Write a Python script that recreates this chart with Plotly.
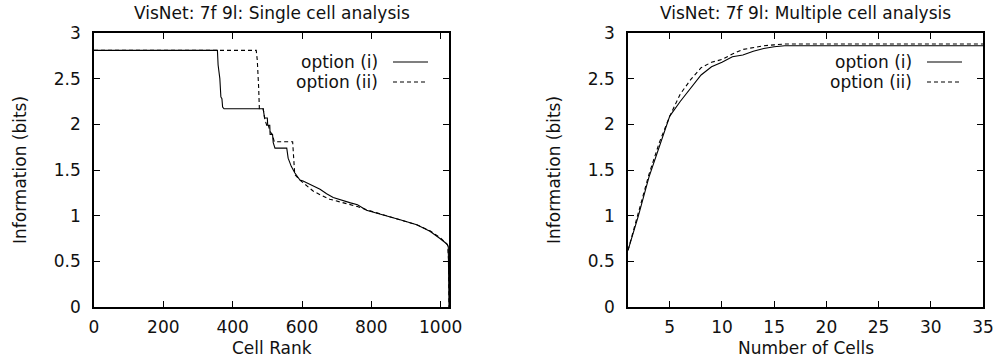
import plotly.graph_objects as go

W, H = 994, 364

# ---------------- data ----------------
single_i_rank = [0, 356, 358, 361, 363, 366, 369, 371, 375, 488, 490, 492, 500, 501, 507, 508, 515, 517,
                 522, 556, 560, 569, 579, 594, 603, 623, 652, 671, 690, 740, 760, 786,
                 834, 883, 931, 969, 998, 1010, 1018, 1022, 1023, 1024]
single_i_info = [2.81, 2.81, 2.65, 2.55, 2.50, 2.30, 2.28, 2.19, 2.17, 2.17, 2.10, 2.07, 2.07, 1.99, 1.99,
                 1.89, 1.89, 1.80, 1.74, 1.74, 1.63, 1.54, 1.47, 1.39, 1.38, 1.34, 1.29, 1.24, 1.20, 1.14,
                 1.12, 1.06, 1.01, 0.955, 0.90, 0.83, 0.75, 0.71, 0.69, 0.66, 0.3, 0.0]

single_ii_rank = [0, 468, 471, 473, 475, 477, 488, 493, 497, 500, 503, 507, 515, 520, 573, 575, 577, 579,
                  594, 615, 632, 652, 680, 720, 760, 790, 834, 883, 931, 969, 998, 1012, 1020, 1023, 1024]
single_ii_info = [2.81, 2.81, 2.70, 2.60, 2.40, 2.17, 2.17, 2.05, 2.00, 1.97, 1.99, 1.93, 1.88, 1.81, 1.81,
                  1.65, 1.52, 1.45, 1.39, 1.32, 1.27, 1.23, 1.18, 1.14, 1.10, 1.06, 1.01, 0.955, 0.90,
                  0.835, 0.76, 0.71, 0.68, 0.5, 0.0]

n_cells = [1, 2, 3, 4, 5, 6, 7, 8, 9, 10, 11, 12, 13, 14, 15, 16, 17, 18, 19, 20, 21, 22, 23, 24, 25,
           26, 27, 28, 29, 30, 31, 32, 33, 34, 35]
multi_i = [0.62, 1.00, 1.42, 1.76, 2.09, 2.25, 2.39, 2.54, 2.63, 2.68, 2.74, 2.76, 2.80, 2.83, 2.85,
           2.86, 2.86, 2.86, 2.86, 2.86, 2.86, 2.86, 2.86, 2.86, 2.86, 2.86, 2.86, 2.86, 2.86, 2.86,
           2.86, 2.86, 2.86, 2.86, 2.86]
multi_ii = [0.62, 1.03, 1.45, 1.80, 2.09, 2.33, 2.49, 2.62, 2.68, 2.71, 2.77, 2.82, 2.84, 2.86, 2.87,
            2.88, 2.88, 2.88, 2.88, 2.88, 2.88, 2.88, 2.88, 2.88, 2.88, 2.88, 2.88, 2.88, 2.88, 2.88,
            2.88, 2.88, 2.88, 2.88, 2.88]

titles = ["VisNet: 7f 9l: Single cell analysis", "VisNet: 7f 9l: Multiple cell analysis"]
xtitles = ["Cell Rank", "Number of Cells"]
ytitle = "Information (bits)"
legend_names = ["option (i)", "option (ii)"]
y_ticks = [0, 0.5, 1, 1.5, 2, 2.5, 3]
y_ticktext = ["0", "0.5", "1", "1.5", "2", "2.5", "3"]
x1_ticks = [0, 200, 400, 600, 800, 1000]
x2_ticks = [5, 10, 15, 20, 25, 30, 35]

FONT = "DejaVu Sans, Liberation Sans, Arial, sans-serif"
FS = 17
DASH = "4px,3px"

fig = go.Figure()
fig.add_trace(go.Scatter(x=single_i_rank, y=single_i_info, mode="lines",
                         line=dict(color="black", width=1.1), xaxis="x", yaxis="y", showlegend=False))
fig.add_trace(go.Scatter(x=single_ii_rank, y=single_ii_info, mode="lines",
                         line=dict(color="black", width=1.1, dash=DASH), xaxis="x", yaxis="y", showlegend=False))
fig.add_trace(go.Scatter(x=n_cells, y=multi_i, mode="lines",
                         line=dict(color="black", width=1.1), xaxis="x2", yaxis="y2", showlegend=False))
fig.add_trace(go.Scatter(x=n_cells, y=multi_ii, mode="lines",
                         line=dict(color="black", width=1.1, dash=DASH), xaxis="x2", yaxis="y2", showlegend=False))

px = lambda v: v / W
py = lambda v: 1 - v / H

# plot areas in pixels
L1, R1 = 94, 449
L2, R2 = 628, 983
T, B = 33, 307

axis_common = dict(showline=True, linecolor="black", linewidth=1.5, mirror="ticks",
                   ticks="inside", ticklen=6, tickwidth=1.2, tickcolor="black",
                   showgrid=False, zeroline=False, automargin=False,
                   tickfont=dict(family=FONT, size=FS, color="#111"))

fig.update_layout(
    template="none",
    width=W, height=H,
    margin=dict(l=0, r=0, t=0, b=0, pad=0, autoexpand=False),
    paper_bgcolor="white", plot_bgcolor="white",
    xaxis=dict(domain=[px(L1), px(R1)], range=[0, 1024], tickvals=x1_ticks,
               anchor="y", ticklabelstandoff=4, **axis_common),
    yaxis=dict(domain=[py(B), py(T)], range=[0, 3], tickvals=y_ticks, ticktext=y_ticktext,
               anchor="x", ticklabelstandoff=8, **axis_common),
    xaxis2=dict(domain=[px(L2), px(R2)], range=[1, 35], tickvals=x2_ticks,
                anchor="y2", ticklabelstandoff=4, **axis_common),
    yaxis2=dict(domain=[py(B), py(T)], range=[0, 3], tickvals=y_ticks, ticktext=y_ticktext,
                anchor="x2", ticklabelstandoff=8, **axis_common),
)

font = dict(family=FONT, size=FS, color="#111")
ann = []
shapes = []
for i, (L, R) in enumerate([(L1, R1), (L2, R2)]):
    cx = (L + R) / 2
    ann.append(dict(text=titles[i], x=px(cx), y=py(13), xref="paper", yref="paper",
                    xanchor="center", yanchor="middle", showarrow=False, font=font))
    ann.append(dict(text=xtitles[i], x=px(cx), y=py(348), xref="paper", yref="paper",
                    xanchor="center", yanchor="middle", showarrow=False, font=font))
    ylx = 20 if i == 0 else 554
    ann.append(dict(text=ytitle, x=px(ylx), y=py((T + B) / 2), xref="paper", yref="paper",
                    xanchor="center", yanchor="middle", showarrow=False, textangle=-90, font=font))
    for j, name in enumerate(legend_names):
        yy = 62 + 20 * j
        ann.append(dict(text=name, x=px(R - 69), y=py(yy), xref="paper", yref="paper",
                        xanchor="right", yanchor="middle", showarrow=False, font=font))
        shapes.append(dict(type="line", xref="paper", yref="paper",
                           x0=px(R - 56), x1=px(R - 21), y0=py(yy), y1=py(yy),
                           line=dict(color="black", width=1.1, dash="solid" if j == 0 else DASH)))

fig.update_layout(annotations=ann, shapes=shapes)
fig.write_html("out.html")
